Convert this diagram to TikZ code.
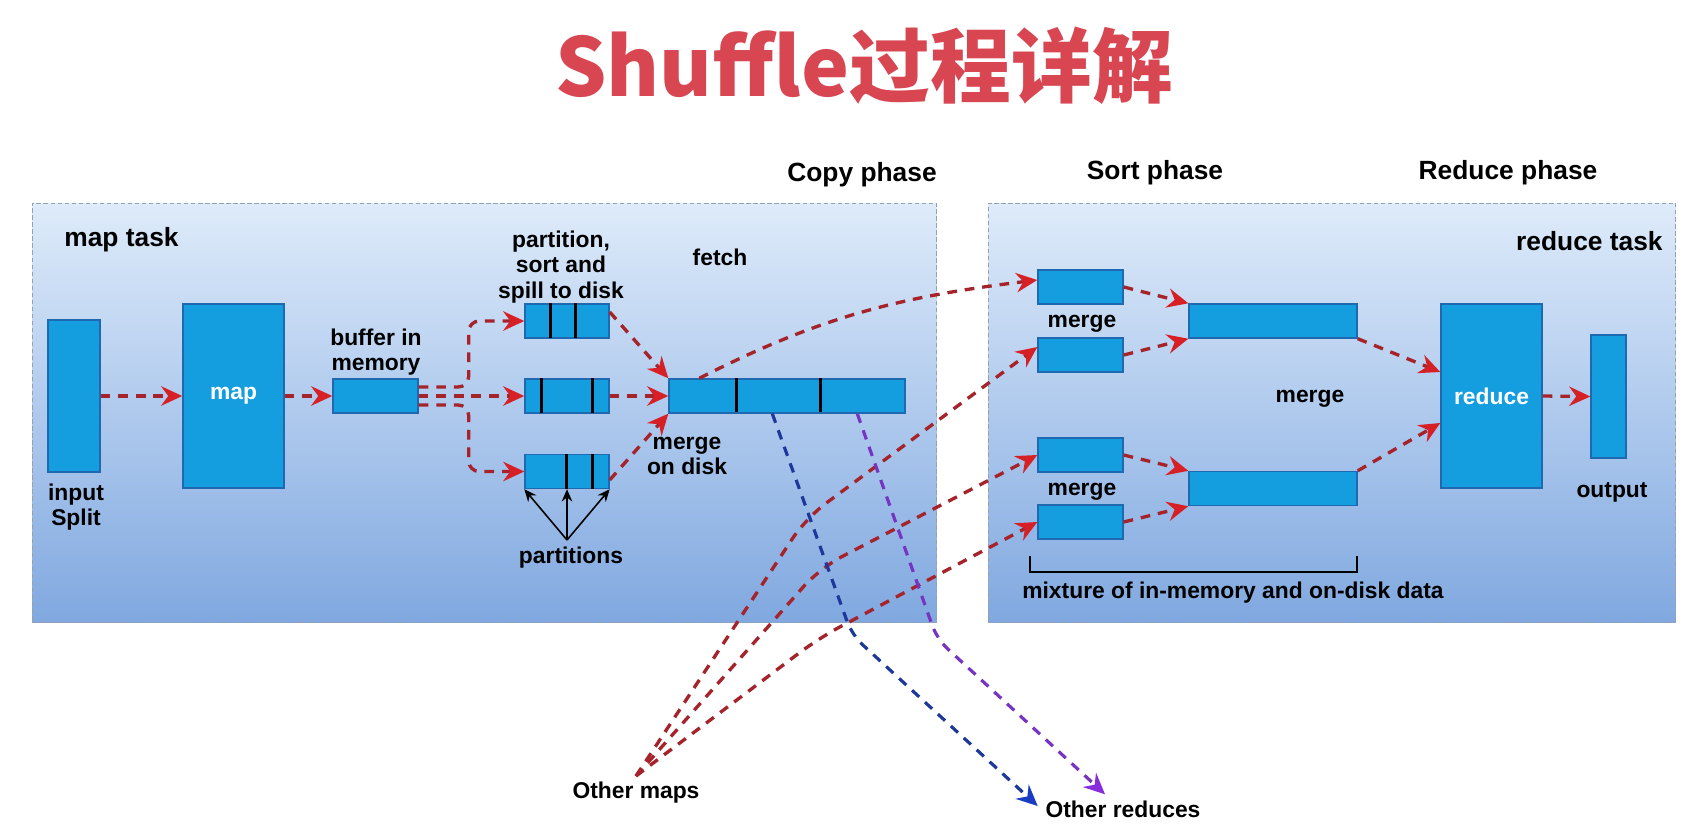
\documentclass[tikz,border=0pt]{standalone}
\usepackage{fontspec}
\setmainfont{Liberation Sans}
\newfontfamily\cjk{Noto Sans CJK SC}
\usepackage{xcolor}
\usetikzlibrary{arrows.meta}
\definecolor{boxBlue}{RGB}{20,158,224}
\definecolor{boxEdge}{RGB}{30,105,175}
\definecolor{panelTop}{RGB}{222,235,250}
\definecolor{panelBottom}{RGB}{128,168,224}
\definecolor{panelEdge}{RGB}{150,160,175}
\definecolor{flowRed}{RGB}{165,35,42}
\definecolor{tipRed}{RGB}{215,32,38}
\definecolor{fetchBlue}{RGB}{30,55,155}
\definecolor{tipBlue}{RGB}{25,60,195}
\definecolor{fetchPurple}{RGB}{118,52,192}
\definecolor{tipPurple}{RGB}{135,45,220}
\definecolor{titleRed}{RGB}{216,70,82}
\tikzstyle{taskPanel}=[draw=panelEdge, line width=0.6pt, dash pattern=on 2.5pt off 1.5pt, top color=panelTop, bottom color=panelBottom, inner sep=0pt]
\tikzstyle{dataBlock}=[draw=boxEdge, fill=boxBlue, line width=0.8pt, inner sep=0pt, text=white, font=\fontsize{13}{15}\selectfont\bfseries]
\tikzstyle{labelNode}=[inner sep=0pt, align=center, font=\fontsize{13}{14.5}\selectfont\bfseries]
\tikzstyle{headNode}=[inner sep=0pt, font=\fontsize{15}{18}\selectfont\bfseries]
\tikzstyle{divider}=[line width=1.6pt]
\tikzstyle{dataFlow}=[draw=flowRed, line width=1.9pt, dash pattern=on 5.5pt off 4.5pt, -{Stealth[length=12pt, width=11pt, inset=4pt, color=tipRed]}]
\tikzstyle{blueFlow}=[draw=fetchBlue, line width=1.8pt, dash pattern=on 5.5pt off 4.5pt, -{Stealth[length=12pt, width=11pt, inset=4pt, color=tipBlue]}]
\tikzstyle{purpleFlow}=[draw=fetchPurple, line width=1.8pt, dash pattern=on 5.5pt off 4.5pt, -{Stealth[length=12pt, width=11pt, inset=4pt, color=tipPurple]}]
\tikzstyle{partArrow}=[-{Stealth[length=7pt, width=6pt]}, line width=0.9pt]

\begin{document}
\begin{tikzpicture}[x=0.02cm, y=-0.02cm]
        \useasboundingbox (0, 0) rectangle (1693, 835);

        \node[inner sep=0pt, text=titleRed, font=\cjk\fontsize{46}{50}\selectfont\bfseries] (title) at (864, 66) {Shuffle过程详解};

        \node[headNode] (copyText) at (862, 175) {Copy phase};
        \node[headNode] (sortText) at (1155, 173) {Sort phase};
        \node[headNode] (reduceText) at (1508, 173) {Reduce phase};

        % Panels
        \node[taskPanel, minimum width=18.1cm, minimum height=8.4cm] (mapPanel) at (484.5, 413) {};
        \node[taskPanel, minimum width=13.76cm, minimum height=8.4cm] (reducePanel) at (1332, 413) {};
        \node[headNode, anchor=west] (mapTask) at (64, 240) {map task};
        \node[headNode, anchor=east] (reduceTask) at (1663, 241) {reduce task};

        % Map side
        \node[dataBlock, minimum width=1.04cm, minimum height=3.04cm] (split) at (74, 396) {};
        \node[dataBlock, minimum width=2.02cm, minimum height=3.68cm] (mapBox) at (233.5, 396) {map};
        \node[dataBlock, minimum width=1.7cm, minimum height=0.68cm] (buffer) at (375.5, 396) {};
        \node[dataBlock, minimum width=1.68cm, minimum height=0.68cm] (spill1) at (567, 321) {};
        \node[dataBlock, minimum width=1.68cm, minimum height=0.68cm] (spill2) at (567, 396) {};
        \node[dataBlock, minimum width=1.68cm, minimum height=0.68cm] (spill3) at (567, 471.5) {};
        \node[dataBlock, minimum width=4.72cm, minimum height=0.68cm] (disk) at (787, 396) {};

        \draw[divider] (spill1.north west) ++(26, 0) -- ++(0, 35);
        \draw[divider] (spill1.north west) ++(51, 0) -- ++(0, 35);
        \draw[divider] (spill2.north west) ++(17, 0) -- ++(0, 35);
        \draw[divider] (spill2.north west) ++(68, 0) -- ++(0, 35);
        \draw[divider] (spill3.north west) ++(42, 0) -- ++(0, 35);
        \draw[divider] (spill3.north west) ++(68, 0) -- ++(0, 35);
        \draw[divider] (disk.north west) ++(68, 0) -- ++(0, 34);
        \draw[divider] (disk.north west) ++(152, 0) -- ++(0, 34);

        \node[labelNode] (splitText) at (76, 507) {input\\Split};
        \node[labelNode] (bufferText) at (376, 352) {buffer in\\memory};
        \node[labelNode] (spillText) at (561, 267) {partition,\\sort and\\spill to disk};
        \node[labelNode] (fetchText) at (720, 257) {fetch};
        \node[labelNode] (diskText) at (687, 456) {merge\\on disk};
        \node[labelNode] (partText) at (571, 558) {partitions};
        \coordinate (partFan) at (567, 540);

        \draw[dataFlow] (split.east) -- (mapBox.west);
        \draw[dataFlow] (mapBox.east) -- (buffer.west);
        \draw[dataFlow, rounded corners=6pt] ([yshift=0.18cm]buffer.east) -- ++(50, 0) |- (spill1.west);
        \draw[dataFlow] (buffer.east) -- (spill2.west);
        \draw[dataFlow, rounded corners=6pt] ([yshift=-0.18cm]buffer.east) -- ++(50, 0) |- (spill3.west);
        \draw[dataFlow] ([yshift=0.18cm]spill1.east) -- (disk.north west);
        \draw[dataFlow] (spill2.east) -- (disk.west);
        \draw[dataFlow] ([yshift=-0.17cm]spill3.east) -- (disk.south west);

        \draw[partArrow] (partFan) -- (spill3.south west);
        \draw[partArrow] (partFan) -- (spill3.south);
        \draw[partArrow] (partFan) -- (spill3.south east);

        % Reduce side
        \node[dataBlock, minimum width=1.7cm, minimum height=0.68cm] (sortIn1) at (1080.5, 287) {};
        \node[dataBlock, minimum width=1.7cm, minimum height=0.68cm] (sortIn2) at (1080.5, 355) {};
        \node[dataBlock, minimum width=1.7cm, minimum height=0.68cm] (sortIn3) at (1080.5, 455) {};
        \node[dataBlock, minimum width=1.7cm, minimum height=0.68cm] (sortIn4) at (1080.5, 522) {};
        \node[dataBlock, minimum width=3.36cm, minimum height=0.68cm] (sortOut1) at (1273, 321) {};
        \node[dataBlock, minimum width=3.36cm, minimum height=0.68cm] (sortOut2) at (1273, 488.5) {};
        \node[dataBlock, minimum width=2.02cm, minimum height=3.68cm] (reduceBox) at (1491.5, 396) {reduce};
        \node[dataBlock, minimum width=0.7cm, minimum height=2.46cm] (outBox) at (1608.5, 396.5) {};

        \node[labelNode] (mergeA) at (1082, 324) {merge};
        \node[labelNode] (mergeB) at (1082, 492) {merge};
        \node[labelNode] (mergeC) at (1310, 399) {merge};
        \node[labelNode] (outText) at (1612, 492) {output};
        \node[labelNode] (mixText) at (1233, 593) {mixture of in-memory and on-disk data};
        \draw[line width=1pt] (1030, 556) -- (1030, 572) -- (1357, 572) -- (1357, 556);

        \draw[dataFlow] (sortIn1.east) -- (sortOut1.north west);
        \draw[dataFlow] (sortIn2.east) -- (sortOut1.south west);
        \draw[dataFlow] (sortIn3.east) -- (sortOut2.north west);
        \draw[dataFlow] (sortIn4.east) -- (sortOut2.south west);
        \draw[dataFlow] (sortOut1.south east) -- ([yshift=0.48cm]reduceBox.west);
        \draw[dataFlow] (sortOut2.north east) -- ([yshift=-0.54cm]reduceBox.west);
        \draw[dataFlow] (reduceBox.east) -- (outBox.west);

        % Fetch and other tasks
        \node[labelNode] (otherMaps) at (636, 793) {Other maps};
        \node[labelNode] (otherReduces) at (1123, 809) {Other reduces};
        \coordinate (om) at (636, 776);

        \draw[dataFlow] ([xshift=0.62cm]disk.north west) to[out=27, in=187] ([yshift=0.14cm]sortIn1.west);
        \draw[dataFlow, rounded corners=14pt] (om) -- (806, 518) -- ([yshift=0.16cm]sortIn2.west);
        \draw[dataFlow, rounded corners=14pt] (om) -- (820, 568) -- (sortIn3.west);
        \draw[dataFlow, rounded corners=14pt] (om) -- (819, 638) -- (sortIn4.west);

        \draw[blueFlow, rounded corners=8pt] ([xshift=2.08cm]disk.south west) -- (852, 635) -- ([xshift=-0.15cm, yshift=0.06cm]otherReduces.west);
        \draw[purpleFlow, rounded corners=8pt] ([xshift=3.78cm]disk.south west) -- (937, 639) -- ([xshift=-0.36cm, yshift=0.12cm]otherReduces.north);

\end{tikzpicture}
\end{document}
